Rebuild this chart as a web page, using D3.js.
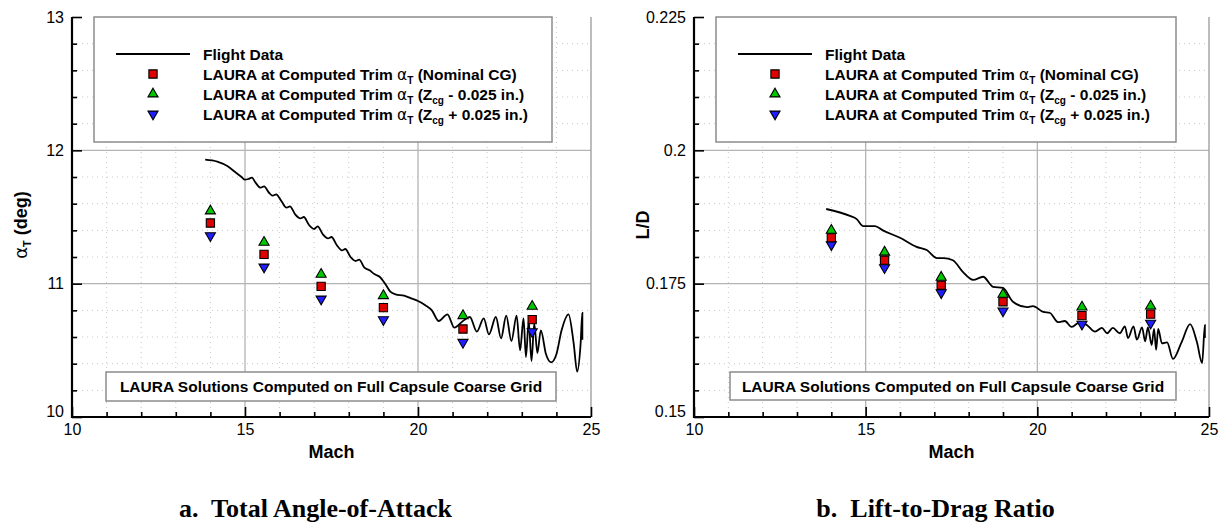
<!DOCTYPE html>
<html>
<head>
<meta charset="utf-8">
<script src="https://cdn.jsdelivr.net/npm/d3@7"></script>
<style>
body { margin: 0; background: #fff; }
text { font-family: "Liberation Sans", Arial, sans-serif; fill: #000; }
.cap { font-family: "Liberation Serif", "Times New Roman", serif; font-weight: bold; white-space: pre; }
</style>
</head>
<body>
<svg id="chart" width="1231" height="525"></svg>
<script>
// LAURA solution Mach numbers (same in both panels)
const lauraMach = [14.0, 15.55, 17.2, 19.0, 21.3, 23.3]

// panel a: total angle of attack (deg)
const alphaNominal = [11.455, 11.22, 10.98, 10.82, 10.66, 10.73]
const alphaZMinus = [11.545, 11.31, 11.07, 10.91, 10.76, 10.83]
const alphaZPlus = [11.36, 11.125, 10.885, 10.73, 10.56, 10.64]

// panel b: lift-to-drag
const ldNominal = [0.1836, 0.1794, 0.1747, 0.1716, 0.1690, 0.1693]
const ldZMinus = [0.1850, 0.1809, 0.1762, 0.1730, 0.1706, 0.1708]
const ldZPlus = [0.1823, 0.1780, 0.1733, 0.1699, 0.1674, 0.1676]

// flight data, panel a
const flightMachA = [13.85, 14.2, 14.5, 14.75, 14.9, 15.0, 15.1, 15.2, 15.3, 15.45, 15.55, 15.7, 15.8, 15.9,
  16.05, 16.2, 16.3, 16.45, 16.6, 16.7, 16.85, 17.0, 17.1, 17.25, 17.4, 17.5, 17.65, 17.8, 17.9, 18.05,
  18.2, 18.3, 18.45, 18.6, 18.75, 18.9, 19.05, 19.2, 19.35, 19.6, 19.8, 20.0, 20.2, 20.4, 20.6, 20.85,
  21.05, 21.3, 21.5, 21.7, 21.9, 22.05, 22.25, 22.4, 22.55, 22.7, 22.85, 22.95, 23.05, 23.12, 23.2,
  23.28, 23.36, 23.45, 23.55, 23.7, 23.85, 24.0, 24.15, 24.35, 24.5, 24.6, 24.7, 24.75, 24.75]
const flightAlpha = [11.93, 11.915, 11.88, 11.83, 11.80, 11.78, 11.785, 11.795, 11.76, 11.72, 11.73, 11.68, 11.66, 11.67,
  11.62, 11.57, 11.58, 11.52, 11.49, 11.50, 11.44, 11.41, 11.43, 11.37, 11.34, 11.35, 11.29, 11.25, 11.26, 11.20,
  11.17, 11.18, 11.12, 11.10, 11.07, 11.05, 11.00, 10.94, 10.92, 10.91, 10.89, 10.87, 10.84, 10.80, 10.72, 10.77,
  10.67, 10.72, 10.75, 10.64, 10.74, 10.62, 10.75, 10.59, 10.76, 10.57, 10.76, 10.50, 10.74, 10.45, 10.72,
  10.42, 10.70, 10.48, 10.65, 10.47, 10.41, 10.47, 10.65, 10.77, 10.55, 10.34, 10.55, 10.78, 10.58]

// flight data, panel b
const flightMachB = [13.85, 14.54, 14.74, 14.92, 15.27, 15.5, 16.0, 16.48, 16.78, 17.08, 17.27, 17.54, 17.83,
  18.13, 18.42, 18.71, 19.0, 19.29, 19.7, 19.87, 20.17, 20.37, 20.6, 20.8, 21.0, 21.24, 21.45, 21.68, 21.88,
  22.03, 22.2, 22.4, 22.55, 22.64, 22.8, 22.9, 23.05, 23.14, 23.22, 23.33, 23.4, 23.46, 23.52, 23.63, 23.78,
  23.95, 24.2, 24.45, 24.65, 24.8, 24.88, 24.88]
const flightLD = [0.1890, 0.1877, 0.1871, 0.1858, 0.1858, 0.1850, 0.1836, 0.1819, 0.1813, 0.1798, 0.1798, 0.1794, 0.1772,
  0.1757, 0.1763, 0.1744, 0.1742, 0.1716, 0.1706, 0.1708, 0.1697, 0.1695, 0.1678, 0.1680, 0.1669, 0.1678, 0.1672, 0.1660, 0.1667,
  0.1657, 0.1667, 0.1657, 0.1670, 0.1648, 0.1670, 0.1645, 0.1668, 0.1642, 0.1668, 0.1635, 0.1665, 0.1626, 0.1665, 0.1638, 0.1640,
  0.1609, 0.1640, 0.1674, 0.1640, 0.1601, 0.1672, 0.1648]

const machTicks = [10, 15, 20, 25]
const alphaTicks = [10, 11, 12, 13]
const ldTicks = [0.15, 0.175, 0.2, 0.225]

const svg = d3.select('#chart')

const panels = [
  {
    left: 72, right: 591, top: 17, bottom: 417,
    yDomain: [10, 13], yTicks: alphaTicks, yMinorStep: 0.2,
    flightX: flightMachA, flightY: flightAlpha,
    nom: alphaNominal, zm: alphaZMinus, zp: alphaZPlus,
    ylabel: 'alpha', caption: 'a.  Total Angle-of-Attack',
    legendRight: 552, noteBox: [106, 372, 556, 401]
  },
  {
    left: 694, right: 1209, top: 17, bottom: 417,
    yDomain: [0.15, 0.225], yTicks: ldTicks, yMinorStep: 0.005,
    flightX: flightMachB, flightY: flightLD,
    nom: ldNominal, zm: ldZMinus, zp: ldZPlus,
    ylabel: 'L/D', caption: 'b.  Lift-to-Drag Ratio',
    legendRight: 1176, noteBox: [730, 372, 1176, 400]
  }
]

function addTrimLabel(sel, tail) {
  sel.append('tspan').text('LAURA at Computed Trim ')
  sel.append('tspan').attr('font-weight', 'normal').attr('font-family', 'DejaVu Sans').text('\u03b1')
  sel.append('tspan').attr('font-size', '10px').attr('dy', 4).text('T')
  sel.append('tspan').attr('dy', -4).text(' (')
  tail(sel)
}

function drawPanel(p) {
  const x = d3.scaleLinear().domain([10, 25]).range([p.left, p.right])
  const y = d3.scaleLinear().domain(p.yDomain).range([p.bottom, p.top])
  const g = svg.append('g')

  const xMinor = d3.range(11, 25, 1).filter(v => !machTicks.includes(v))
  const yMinor = d3.range(p.yDomain[0], p.yDomain[1] + 1e-9, p.yMinorStep)
    .filter(v => !p.yTicks.some(t => Math.abs(t - v) < 1e-9))

  // minor dotted grid
  g.selectAll('.mgx').data(xMinor).enter().append('line')
    .attr('x1', d => x(d)).attr('x2', d => x(d)).attr('y1', p.top).attr('y2', p.bottom)
    .attr('stroke', '#c8c8c8').attr('stroke-dasharray', '1,4')
  g.selectAll('.mgy').data(yMinor).enter().append('line')
    .attr('y1', d => y(d)).attr('y2', d => y(d)).attr('x1', p.left).attr('x2', p.right)
    .attr('stroke', '#c8c8c8').attr('stroke-dasharray', '1,4')
  // major grid
  g.selectAll('.gx').data(machTicks.slice(1, -1)).enter().append('line')
    .attr('x1', d => x(d)).attr('x2', d => x(d)).attr('y1', p.top).attr('y2', p.bottom)
    .attr('stroke', '#b4b4b4').attr('stroke-width', 1.3)
  g.selectAll('.gy').data(p.yTicks.slice(1, -1)).enter().append('line')
    .attr('y1', d => y(d)).attr('y2', d => y(d)).attr('x1', p.left).attr('x2', p.right)
    .attr('stroke', '#b4b4b4').attr('stroke-width', 1.3)

  // right frame edge
  g.append('line').attr('x1', p.right).attr('x2', p.right).attr('y1', p.top).attr('y2', p.bottom)
    .attr('stroke', '#999').attr('stroke-width', 1.3)

  // legend box
  const lg = g.append('g')
  lg.append('rect').attr('x', p.left + 22).attr('y', p.top)
    .attr('width', p.legendRight - p.left - 22).attr('height', 125)
    .attr('fill', '#fff').attr('stroke', '#8c8c8c').attr('stroke-width', 1.5)
  const lx = p.left + 44, tx = p.left + 131, ly = [54, 74, 94, 114]
  lg.append('line').attr('x1', lx).attr('x2', lx + 74).attr('y1', ly[0]).attr('y2', ly[0])
    .attr('stroke', '#000').attr('stroke-width', 2)
  const legendText = (i) => lg.append('text').attr('x', tx).attr('y', ly[i]).attr('dy', '0.36em')
    .attr('font-size', '15.5px').attr('font-weight', 'bold')
  legendText(0).text('Flight Data')
  addTrimLabel(legendText(1), s => s.append('tspan').text('Nominal CG)'))
  addTrimLabel(legendText(2), s => {
    s.append('tspan').text('Z')
    s.append('tspan').attr('font-size', '10px').attr('dy', 4).text('cg')
    s.append('tspan').attr('dy', -4).text(' - 0.025 in.)')
  })
  addTrimLabel(legendText(3), s => {
    s.append('tspan').text('Z')
    s.append('tspan').attr('font-size', '10px').attr('dy', 4).text('cg')
    s.append('tspan').attr('dy', -4).text(' + 0.025 in.)')
  })

  // note box
  const nb = p.noteBox
  g.append('rect').attr('x', nb[0]).attr('y', nb[1]).attr('width', nb[2] - nb[0]).attr('height', nb[3] - nb[1])
    .attr('fill', '#fff').attr('stroke', '#8c8c8c').attr('stroke-width', 1.5)
  g.append('text').attr('x', (nb[0] + nb[2]) / 2).attr('y', (nb[1] + nb[3]) / 2).attr('dy', '0.36em')
    .attr('text-anchor', 'middle').attr('font-size', '15.5px').attr('font-weight', 'bold')
    .text('LAURA Solutions Computed on Full Capsule Coarse Grid')

  // axes (ticks inside)
  g.append('g').attr('transform', `translate(0,${p.bottom})`)
    .call(d3.axisBottom(x).tickValues(machTicks).tickSize(-10).tickPadding(7).tickFormat(d3.format('d')))
  g.append('g').attr('transform', `translate(0,${p.bottom})`)
    .call(d3.axisBottom(x).tickValues(xMinor).tickSize(-5).tickFormat(''))
  const yAx = g.append('g').attr('transform', `translate(${p.left},0)`)
    .call(d3.axisLeft(y).tickValues(p.yTicks).tickSize(-10).tickPadding(8).tickFormat(d => String(d)))
  g.append('g').attr('transform', `translate(${p.left},0)`)
    .call(d3.axisLeft(y).tickValues(yMinor).tickSize(-5).tickFormat(''))
  g.selectAll('.domain').remove()
  g.selectAll('.tick line').attr('stroke', '#000').attr('stroke-width', 1.6)
  g.selectAll('.tick text').attr('font-size', '16px').attr('font-family', '"Liberation Sans", Arial, sans-serif').attr('fill', '#000')
  yAx.selectAll('.tick text').filter(d => d === p.yDomain[0]).attr('dy', '-0.05em')
  g.append('path').attr('d', `M${p.left},${p.top}V${p.bottom}H${p.right}`)
    .attr('fill', 'none').attr('stroke', '#000').attr('stroke-width', 2.2)

  // flight data line
  const pts = p.flightX.map((m, i) => [m, p.flightY[i]])
  g.append('path').datum(pts)
    .attr('d', d3.line().x(d => x(d[0])).y(d => y(d[1])).curve(d3.curveMonotoneX))
    .attr('fill', 'none').attr('stroke', '#000').attr('stroke-width', 1.8)

  // LAURA symbols
  const sq = d3.symbol().type(d3.symbolSquare).size(68)
  const tri = d3.symbol().type(d3.symbolTriangle).size(44)
  const sets = [
    { vals: p.zm, fill: '#00c800', shape: tri, rot: 0 },
    { vals: p.zp, fill: '#1e1eff', shape: tri, rot: 180 },
    { vals: p.nom, fill: '#e00000', shape: sq, rot: 0 }
  ]
  sets.forEach(s => {
    g.selectAll(null).data(lauraMach.map((m, i) => [m, s.vals[i]])).enter().append('path')
      .attr('d', s.shape())
      .attr('transform', d => `translate(${x(d[0])},${y(d[1])}) rotate(${s.rot})`)
      .attr('fill', s.fill).attr('stroke', '#000').attr('stroke-width', 1.1)
  })
  // legend symbols
  const mx = p.left + 81
  lg.append('path').attr('d', sq()).attr('transform', `translate(${mx},${ly[1]})`)
    .attr('fill', '#e00000').attr('stroke', '#000').attr('stroke-width', 1.1)
  lg.append('path').attr('d', tri()).attr('transform', `translate(${mx},${ly[2]})`)
    .attr('fill', '#00c800').attr('stroke', '#000').attr('stroke-width', 1.1)
  lg.append('path').attr('d', tri()).attr('transform', `translate(${mx},${ly[3]}) rotate(180)`)
    .attr('fill', '#1e1eff').attr('stroke', '#000').attr('stroke-width', 1.1)

  // axis titles
  const cx = (p.left + p.right) / 2
  g.append('text').attr('x', cx).attr('y', 458).attr('text-anchor', 'middle')
    .attr('font-size', '18px').attr('font-weight', 'bold').text('Mach')
  const yl = g.append('text').attr('transform', `translate(${p.left - 45},${(p.top + p.bottom) / 2 + 8}) rotate(-90)`)
    .attr('text-anchor', 'middle').attr('font-size', '18px').attr('font-weight', 'bold')
  if (p.ylabel === 'alpha') {
    yl.append('tspan').attr('font-weight', 'normal').attr('font-family', 'DejaVu Sans').text('\u03b1')
    yl.append('tspan').attr('font-size', '11px').attr('dy', 4).text('T')
    yl.append('tspan').attr('dy', -4).text(' (deg)')
  } else {
    yl.text(p.ylabel)
  }
  // caption
  svg.append('text').attr('class', 'cap').attr('x', cx - 16).attr('y', 517)
    .attr('text-anchor', 'middle').attr('font-size', '26px').text(p.caption)
}

panels.forEach(drawPanel)
</script>
</body>
</html>
